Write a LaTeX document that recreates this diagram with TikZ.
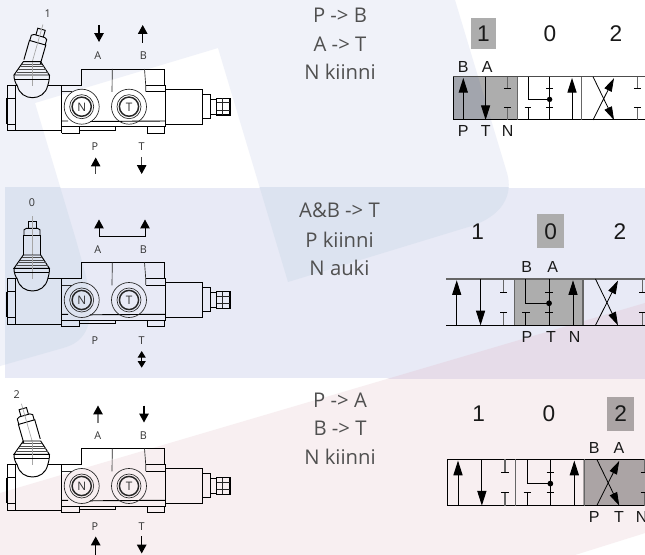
\documentclass[tikz,border=0pt]{standalone}
\usepackage{fontspec}
\setmainfont{Open Sans}
\newfontfamily\arialf{Liberation Sans}
\usetikzlibrary{arrows.meta}
\definecolor{logoc}{HTML}{F0F2F9}
\definecolor{bandc}{HTML}{E8EAF6}
\definecolor{logoband}{HTML}{DCE3F0}
\definecolor{pinkc}{HTML}{F8EFF1}
\definecolor{pinkband}{HTML}{E6DCE9}
\definecolor{hlc}{HTML}{ADADAD}
\definecolor{hldark}{HTML}{A2A5AD}
\definecolor{hlpink}{HTML}{ABA4A5}
\definecolor{txtc}{HTML}{505050}
\tikzset{
  ln/.style={line width=.7pt,black},
  thin ln/.style={line width=.5pt,black!85},
  gline/.style={line width=.5pt,black!35},
  flow/.style={line width=.9pt,-{Triangle[length=6.6pt,width=7pt,black]}},
  flowg/.style={flow,line width=.7pt,draw=black!75},
  symln/.style={line width=.75pt,black},
  symg/.style={line width=.9pt,black!60},
  symarrow/.style={line width=.75pt,-{Triangle[length=11pt,width=6.8pt]}},
  symx/.style={line width=.6pt,-{Triangle[length=10pt,width=6pt]}},
  smalltxt/.style={inner sep=0pt,text=black!80,font=\fontsize{8.1}{9}\selectfont},
  desctxt/.style={inner sep=0pt,text=txtc,font=\fontsize{15.2}{17}\selectfont},
  posnum/.style={inner sep=0pt,text=black!90,font=\arialf\fontsize{17}{19}\selectfont},
  porttxt/.style={inner sep=0pt,text=black!90,font=\arialf\fontsize{12}{14}\selectfont}
}
% logo outline in pixel coordinates
\newcommand{\logopath}{(0,-5) -- (453.5,-5) -- (507,173)
  .. controls (513,193) and (505,217) .. (465,228) -- (288,282) -- (218,48) -- (35,103)
  -- (76,240) -- (83,265) .. controls (100,325) and (85,342) .. (63,348) -- (0,366) -- cycle}
\newcommand{\pinkpath}{(-5,494.5) -- (650,301.5) -- (650,531.5) -- (575,555) -- (-5,555) -- cycle}
% hydraulic valve drawing; #1 y offset, #2 stem angle, #3 node prefix, #4 position label, #5,#6 label position
\newcommand{\valvebody}[6]{%
\begin{scope}[yshift=#1*-.75pt]
  % stem
  \begin{scope}[rotate around={#2:(32.2,62)}]
    \draw[ln] (23.6,62) -- (23.6,42) -- (40.6,42) -- (40.6,62);
    \draw[ln] (24,42) -- (24,36.5) -- (26.5,35) -- (37.5,35) -- (40,36.5) -- (40,42);
    \draw[ln] (28.3,35) -- (28.3,28) -- (36,28) -- (36,35);
    \draw[gline] (32.2,23) -- (32.2,62);
  \end{scope}
  % boot
  \draw[ln] (23.3,61.7) -- (40.7,61.7) -- (49.3,75) -- (14,75) -- cycle;
  \foreach \yy/\ww in {64/1.3,66.7/3.1,69.4/5,72/6.8}
    \draw[line width=.6pt,black!70] (23.3-\ww,\yy) -- (40.7+\ww,\yy);
  \draw[gline] (32.2,62) -- (32.2,86);
  % cap and ball
  \draw[ln] (14,75) .. controls (13.5,78) and (16,85) .. (17.3,85.5)
     (49.3,75) .. controls (50,78) and (48,85) .. (47.7,85.5);
  \draw[ln] (15,79) -- (48.8,79);
  \draw[ln] (17.3,85.5) .. controls (19,94) and (26,97.7) .. (32.5,97.7)
            .. controls (39,97.7) and (46,94) .. (47.7,85.5);
  % left block
  \draw[ln] (17.3,85.5) -- (7.3,85.5) -- (7.3,130.7) -- (61.7,130.7);
  \draw[ln] (47.7,85.5) -- (61.7,85.5) -- (61.7,133.3);
  \draw[ln] (15,85.5) -- (15,130.7);
  \draw[ln] (7.3,98.3) -- (15,98.3) (7.3,124) -- (15,124);
  \draw[ln] (6,98.3) -- (6,124) ;
  % central block
  \draw[ln] (61.7,85.5) -- (81.7,85.5) -- (81.7,69) -- (164.3,69) -- (164.3,85);
  \draw[thin ln] (61.7,91.7) -- (72,91.7);
  \draw[thin ln] (112.3,69) -- (112,92);
  \draw[thin ln] (144.5,69) -- (145.7,85) -- (145.7,91.7);
  \draw[ln] (145.7,85) -- (165.7,85) -- (165.7,126.7);
  \draw[ln] (145.7,91.7) -- (165.7,91.7);
  \draw[ln] (61.7,121) -- (68,121) (90,121.5) -- (165.7,121);
  \draw[ln] (61.7,126.7) -- (165.7,126.7);
  \draw[ln] (61.7,133.3) -- (79.3,133.3) -- (79.3,126.7);
  \draw[ln] (79.3,130) -- (115,130) -- (115,126.7);
  \draw[ln] (147.3,126.7) -- (147.3,133.3) -- (164.3,133.3) -- (164.3,126.7);
  % ports
  \foreach \cx in {81.7,129}{
    \draw[thin ln] (\cx,106.7) circle[x radius=17.5,y radius=17.5];
    \draw[thin ln] (\cx,106.7) circle[x radius=12,y radius=12];
    \draw[line width=1.1pt,black!85] (\cx,106.7) circle[x radius=9.6,y radius=9.6];
  }
  \node[smalltxt,font=\fontsize{8.8}{9}\selectfont] (#3n) at (81.7,106.9) {N};
  \node[smalltxt,font=\fontsize{8.8}{9}\selectfont] (#3tt) at (129,106.9) {T};
  % right end
  \draw[ln] (165.7,89) -- (202.3,89) -- (202.3,124) -- (165.7,124);
  \draw[ln] (202.3,94.3) -- (210.7,94.3) -- (210.7,118.3) -- (202.3,118.3);
  \draw[ln] (210.7,99) -- (216.7,99) (210.7,114.3) -- (216.7,114.3);
  \draw[line width=.9pt,black] (216.7,98.3) rectangle (230,115);
  \draw[ln] (216.7,98.3) -- (216.7,115);
  \draw[thin ln] (222,98.3) -- (222,115) (216.7,102.8) -- (230,102.8) (216.7,110.5) -- (230,110.5);
  % labels
  \node[smalltxt] (#3A) at (97.7,56) {A};
  \node[smalltxt] (#3B) at (143.3,56) {B};
  \node[smalltxt] (#3P) at (95,147) {P};
  \node[smalltxt] (#3T) at (141.7,147) {T};
  \node[smalltxt] (#3pos) at (#5,#6) {#4};
\end{scope}}
% 4/3 way symbol: #1 x, #2 y, #3 scale, #4 colour of top line
\newcommand{\symstop}[1]{%
  \draw[symg] (#1,0) -- (#1,12.3);
  \draw[symln] (#1-3.4,12.3) -- (#1+3.4,12.3);
  \draw[symg] (#1,43.3) -- (#1,31);
  \draw[symln] (#1-3.4,31) -- (#1+3.4,31);}
\newcommand{\valvesym}[4]{%
\begin{scope}[shift={(#1,#2)},xscale=#3,yscale=#3]
  \draw[line width=.9pt,#4] (0,0) -- (210,0);
  \draw[symln] (0,43.3) -- (210,43.3);
  \draw[symg] (64,0) -- (64,43.3) (128,0) -- (128,43.3);
  % cell 1
  \draw[symarrow] (10,43.3) -- (10,1.2);
  \draw[symarrow] (32.3,0) -- (32.3,43.3);
  \symstop{54}
  % cell 0
  \draw[symln] (74.7,0) -- (74.7,22.7) -- (96.3,22.7);
  \draw[symln] (74.7,43.3) -- (74.7,31);
  \draw[symln] (71.3,31) -- (78.1,31);
  \draw[symln] (96.3,0) -- (96.3,43.3);
  \draw[symln] (92.9,12.3) -- (99.7,12.3) (92.9,31) -- (99.7,31);
  \fill (96.3,22.7) circle[x radius=2.7,y radius=2.7];
  \draw[symarrow] (118.7,43.3) -- (118.7,1.2);
  % cell 2
  \draw[symx] (139.7,0) -- (160.7,43.3);
  \draw[symx] (139.7,43.3) -- (160.7,1.5);
  \symstop{184}
\end{scope}}
\begin{document}
\begin{tikzpicture}[x=.75pt,y=-.75pt]
\useasboundingbox (0,0) rectangle (645,555);
\clip (0,0) rectangle (645,555);
% backgrounds
\fill[white] (0,0) rectangle (645,555);
\fill[logoc] \logopath;
\fill[pinkc] \pinkpath;
\fill[bandc] (5,188) rectangle (650,378);
\begin{scope}
  \clip (5,188) rectangle (650,378);
  \fill[logoband] \logopath;
  \fill[pinkband] \pinkpath;
\end{scope}
% valve drawings
\valvebody{0}{-16}{a}{1}{47.7}{14}
\valvebody{193.3}{0}{b}{0}{32}{9.7}
\valvebody{379.3}{16}{c}{2}{16.7}{15.7}
% flow arrows, row 1
\coordinate (a1s) at (99,25);   \coordinate (a1e) at (99,42);
\coordinate (b1s) at (142.7,43);\coordinate (b1e) at (142.7,25);
\coordinate (p1s) at (95.7,174);\coordinate (p1e) at (95.7,157.5);
\coordinate (t1s) at (141.7,157);\coordinate (t1e) at (141.7,174);
\draw[flow] (a1s) -- (a1e);
\draw[flow] (b1s) -- (b1e);
\draw[flowg] (p1s) -- (p1e);
\draw[flowg] (t1s) -- (t1e);
% flow arrows, row 2
\coordinate (u1) at (99,219.5); \coordinate (u2) at (99,236.7);
\coordinate (u3) at (145,236.7);\coordinate (u4) at (145,219.5);
\draw[line width=.7pt] (u2) -- (u3);
\draw[flow,line width=.7pt] (u2) -- (u1);
\draw[flow,line width=.7pt] (u3) -- (u4);
\coordinate (d1) at (141.7,351); \coordinate (d2) at (141.7,367.7);
\draw[line width=.8pt,{Triangle[length=5pt,width=6pt]}-{Triangle[length=5pt,width=6pt]}] (d1) -- (d2);
% flow arrows, row 3
\coordinate (a3s) at (98,423);   \coordinate (a3e) at (98,405.5);
\coordinate (b3s) at (144,405.5);\coordinate (b3e) at (144,422.5);
\coordinate (p3s) at (95.7,556); \coordinate (p3e) at (95.7,536.5);
\coordinate (t3s) at (141.7,536);\coordinate (t3e) at (141.7,553.5);
\draw[flow,draw=black!50] (a3s) -- (a3e);
\draw[flow] (b3s) -- (b3e);
\draw[flow,line width=1.1pt] (p3s) -- (p3e);
\draw[flow,line width=1.1pt] (t3s) -- (t3e);
% descriptions
\node[desctxt] (d11) at (340,15.5) {P -> B};
\node[desctxt] (d12) at (340,44) {A -> T};
\node[desctxt] (d13) at (340,72) {N kiinni};
\node[desctxt] (d21) at (339.5,210.7) {A\&B -> T};
\node[desctxt] (d22) at (339.5,240) {P kiinni};
\node[desctxt] (d23) at (339.5,268) {N auki};
\node[desctxt] (d31) at (340,400) {P -> A};
\node[desctxt] (d32) at (340,428) {B -> T};
\node[desctxt] (d33) at (340,457) {N kiinni};
% symbol, row 1
\fill[hlc] (470.7,18.3) rectangle (495.7,49.3);
\fill[hlc] (453.3,76.7) rectangle (517.7,120);
\begin{scope}
  \clip (453.3,76.7) rectangle (517.7,120);
  \fill[hldark] \logopath;
\end{scope}
\valvesym{453.3}{76.7}{1}{black!70}
\draw[symln] (453.3,76.7) -- (453.3,120);
\node[posnum] (s11) at (483.3,33.3) {1};
\node[posnum] (s10) at (550,33.3) {0};
\node[posnum] (s12) at (616,33.3) {2};
\node[porttxt] (s1b) at (463.3,67.3) {B};
\node[porttxt] (s1a) at (487.3,67.3) {A};
\node[porttxt] (s1p) at (463.3,130.7) {P};
\node[porttxt] (s1t) at (485.7,130.7) {T};
\node[porttxt] (s1n) at (507.7,130.7) {N};
% symbol, row 2
\fill[hlc] (537.3,214.3) rectangle (564.3,248.3);
\fill[hlc] (514.3,279) rectangle (583.7,325.3);
\valvesym{446}{279}{1.07}{black!60}
\node[posnum] (s21) at (477.7,231.7) {1};
\node[posnum] (s20) at (550.7,231.7) {0};
\node[posnum] (s22) at (620,231.7) {2};
\node[porttxt] (s2b) at (526.7,267.3) {B};
\node[porttxt] (s2a) at (552.7,267.3) {A};
\node[porttxt] (s2p) at (527,337.3) {P};
\node[porttxt] (s2t) at (551,337.3) {T};
\node[porttxt] (s2n) at (574.7,337.3) {N};
% symbol, row 3
\fill[hlpink] (607.3,397.3) rectangle (634,430.7);
\fill[hlpink] (583,459.3) rectangle (650,505.3);
\valvesym{447.3}{459.3}{1.07}{black}
\draw[symln] (447.3,459.3) -- (447.3,505.6);
\node[posnum] (s31) at (478.7,414) {1};
\node[posnum] (s30) at (549,414) {0};
\node[posnum] (s32) at (620.7,414) {2};
\node[porttxt] (s3b) at (594.3,448.3) {B};
\node[porttxt] (s3a) at (619,448.3) {A};
\begin{scope}
  \clip (580,508) rectangle (650,522.7);
  \node[porttxt] (s3p) at (594.3,516.7) {P};
  \node[porttxt] (s3t) at (619,516.7) {T};
  \node[porttxt] (s3n) at (641.7,516.7) {N};
\end{scope}
\end{tikzpicture}
\end{document}
